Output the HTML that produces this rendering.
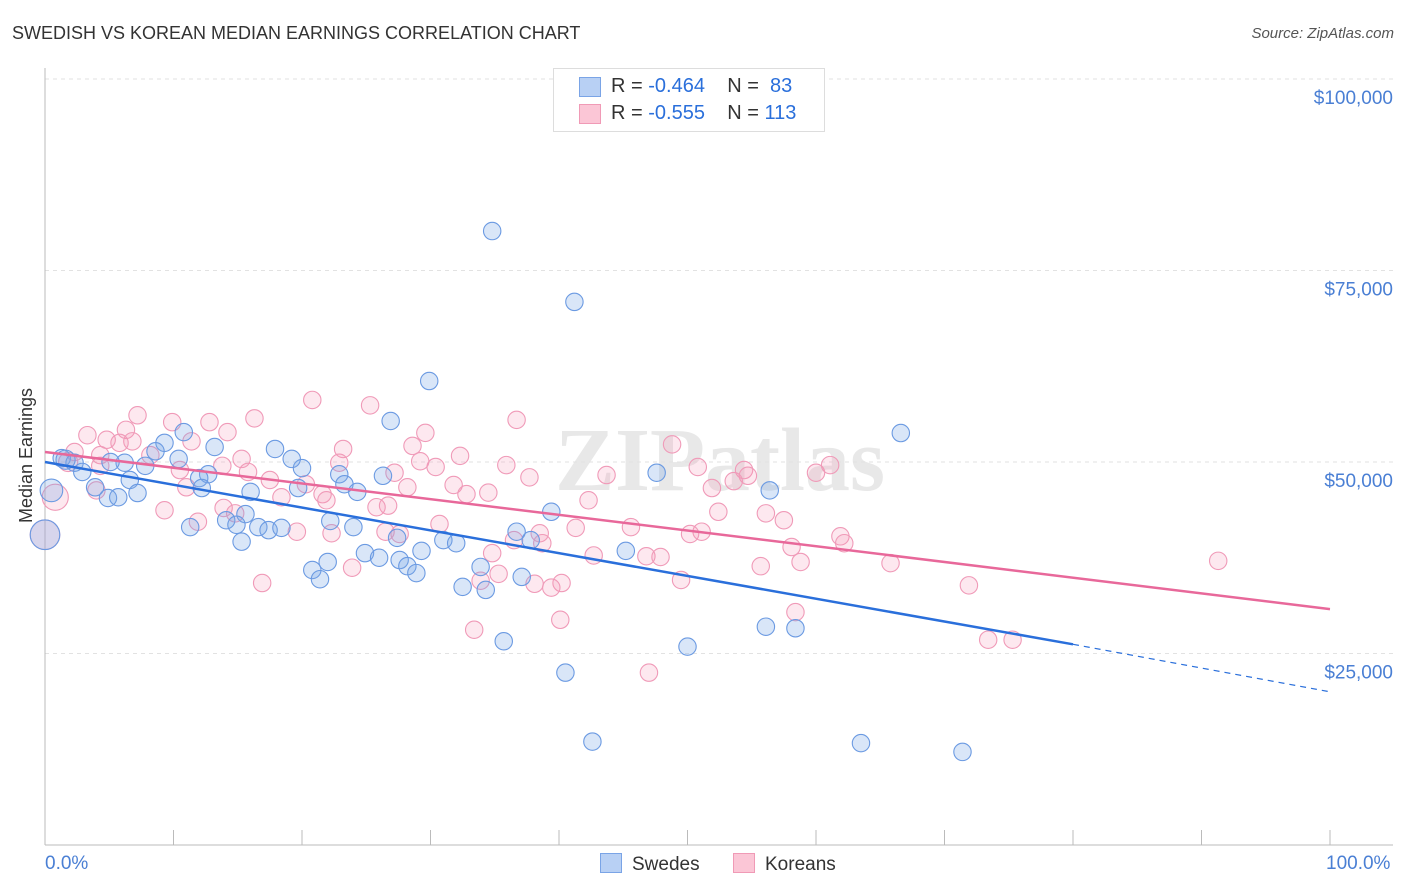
<!DOCTYPE html>
<html><head><meta charset="utf-8"><style>
body{margin:0;background:#fff;font-family:"Liberation Sans",sans-serif;}
#wrap{position:relative;width:1406px;height:892px;overflow:hidden;}
.t{position:absolute;white-space:nowrap;}
</style></head><body>
<div id="wrap">
<div class="t" style="left:12px;top:23px;font-size:18px;color:#333;">SWEDISH VS KOREAN MEDIAN EARNINGS CORRELATION CHART</div>
<div class="t" style="right:12px;top:25px;font-size:15px;color:#555;font-style:italic;">Source: ZipAtlas.com</div>
<svg id="svg" width="1406" height="892" style="position:absolute;left:0;top:0"></svg>
</div>
<script>
const yTicks=[25000,50000,75000,100000];
const yTickLabels=["$25,000","$50,000","$75,000","$100,000"];
const blueX=[34.8,41.2,29.9,26.9,66.6,17.9,10.8,9.3,8.6,10.4,6.2,7.8,5.1,1.3,2.3,2.9,13.2,20.0,19.2,22.9,26.3,12.7,12.0,6.6,3.9,12.2,16.0,19.7,23.3,24.3,7.2,4.9,5.7,39.4,47.6,56.4,14.1,15.6,14.9,16.6,17.4,18.4,11.3,15.3,22.2,24.0,31.0,32.0,27.4,29.3,24.9,26.0,27.6,28.2,28.9,22.0,20.8,21.4,33.9,37.1,32.5,34.3,36.7,37.8,45.2,35.7,40.5,50.0,56.1,58.4,42.6,63.5,71.4,0,0.5,1.6];
const blueY=[80150,70900,60570,55350,53780,51700,53900,52500,51400,50400,49900,49500,50000,50500,49900,48700,51960,49200,50400,48400,48200,48400,47900,47650,46700,46600,46100,46600,47100,46100,45950,45300,45400,43500,48600,46300,42400,43200,41800,41500,41100,41400,41500,39600,42300,41500,39800,39400,40100,38400,38100,37500,37200,36400,35500,36950,35900,34700,36300,35000,33700,33300,40900,39800,38400,26600,22500,25900,28500,28300,13500,13300,12150,40500,46300,50300];
const blueW=[1,1,1,1,1,1,1,1,1,1,1,1,1,1,1,1,1,1,1,1,1,1,1,1,1,1,1,1,1,1,1,1,1,1,1,1,1,1,1,1,1,1,1,1,1,1,1,1,1,1,1,1,1,1,1,1,1,1,1,1,1,1,1,1,1,1,1,1,1,1,1,1,1,1.7,1.3,1.1];
const pinkX=[20.8,25.3,36.7,7.2,16.3,12.8,9.9,6.3,3.3,14.2,29.6,4.8,6.8,5.8,11.4,23.2,28.6,32.3,48.8,2.3,4.3,8.2,15.3,22.9,29.2,30.4,35.9,50.8,54.4,61.1,60.0,54.7,53.6,43.7,37.7,13.8,15.8,10.5,4.3,11.0,17.5,20.3,27.2,28.2,31.8,34.5,32.8,51.9,18.4,21.6,21.9,26.7,25.8,14.8,9.3,11.9,30.7,42.3,57.5,56.1,52.4,45.6,51.1,50.2,61.9,62.2,58.1,41.3,38.5,36.5,38.7,26.5,27.6,19.6,22.3,34.8,42.7,46.8,47.9,55.7,58.8,65.8,91.3,23.9,35.3,33.9,38.1,40.2,39.4,49.5,71.9,16.9,40.1,33.4,58.4,47.0,73.4,75.3,0,0.8,1.8,4.0,13.9];
const pinkY=[58100,57400,55500,56100,55700,55200,55200,54200,53500,53900,53800,52900,52700,52500,52700,51700,52100,50800,52300,51300,50900,50900,50400,49900,50100,49350,49600,49350,48950,49600,48600,48200,47500,48300,48000,49500,48700,48950,49500,46700,47650,47100,48600,46700,47000,46000,45800,46600,45400,45800,45000,44300,44100,43300,43700,42200,41900,45000,42400,43300,43500,41500,40900,40600,40300,39400,38900,41400,40700,39800,39400,40900,40600,40900,40700,38100,37800,37700,37600,36400,36950,36800,37100,36200,35400,34500,34100,34200,33600,34600,33900,34200,29400,28100,30400,22500,26800,26800,40500,45400,50000,46300,44000];
const blueTrend=[50000,26200,20000]; // at 0%, 80%, 100%
const pinkTrend=[51300,30800];      // at 0%, 100%
const svg=document.getElementById('svg');
const NS='http://www.w3.org/2000/svg';
function X(p){return 45+p*12.85;}
function Y(v){return 462-(v-50000)*191.5/25000;}
function mk(tag,attrs,parent){const e=document.createElementNS(NS,tag);for(const k in attrs)e.setAttribute(k,attrs[k]);(parent||svg).appendChild(e);return e;}
// watermark
let wm=mk('text',{x:720,y:490,'text-anchor':'middle','font-size':90,'font-family':'Liberation Serif, serif',fill:'#e8e8e8','font-weight':'bold'});
wm.textContent='ZIPatlas';


// grid
yTicks.forEach((v,i)=>{
 let g=mk('line',{x1:45,x2:1393,y1:Y(v),y2:Y(v),stroke:'#e2e2e2','stroke-dasharray':'4,4'});
 
 
 let t=mk('text',{x:1393,y:Y(v)+25,'text-anchor':'end','font-size':19,fill:'#4a7fd4','font-family':'Liberation Sans, sans-serif'});
 t.textContent=yTickLabels[i];
 
 
});
// axes
let ax=mk('line',{x1:45,x2:45,y1:68,y2:845,stroke:'#bbb'});


let bx=mk('line',{x1:45,x2:1393,y1:845,y2:845,stroke:'#bbb'});


for(let i=0;i<=10;i++){let tk=mk('line',{x1:X(i*10),x2:X(i*10),y1:830,y2:845,stroke:'#bbb'});
 
 }
// points
function pts(xs,ys,ws,fill,stroke,name){xs.forEach((x,i)=>{
 let c=mk('circle',{cx:X(x),cy:Y(ys[i]),r:8.7*(ws?ws[i]:1),fill:fill,stroke:stroke,'stroke-width':1.1});
 
 });}
pts(pinkX,pinkY,pinkX.map((x,i)=>i>=pinkX.length-5?[1.7,1.5,1.1,1,1][i-(pinkX.length-5)]:1),'rgba(245,150,180,0.22)','#f09ab8','korean-point');
pts(blueX,blueY,blueW,'rgba(120,165,230,0.28)','#6b9ae2','swede-point');
// trends
let bl=mk('line',{x1:X(0),y1:Y(blueTrend[0]),x2:X(80),y2:Y(blueTrend[1]),stroke:'#2a6fdb','stroke-width':2.5});


let bd=mk('line',{x1:X(80),y1:Y(blueTrend[1]),x2:X(100),y2:Y(blueTrend[2]),stroke:'#2a6fdb','stroke-width':1.2,'stroke-dasharray':'6,5'});


let pl=mk('line',{x1:X(0),y1:Y(pinkTrend[0]),x2:X(100),y2:Y(pinkTrend[1]),stroke:'#e8689a','stroke-width':2.5});


</script>
<div class="t" style="left:-41px;top:445px;font-size:18px;color:#333;transform:rotate(-90deg);">Median Earnings</div>
<div class="t" style="left:45px;top:853px;font-size:19px;color:#4a7fd4;">0.0%</div>
<div class="t" style="left:1326px;top:853px;font-size:19px;color:#4a7fd4;">100.0%</div>
<div style="position:absolute;left:553px;top:68px;width:270px;height:62px;border:1px solid #ddd;background:#fff;font-size:20px;color:#333;">
 <div style="position:absolute;left:25px;top:8px;width:20px;height:18px;background:#b8d0f4;border:1px solid #7aa4e6"></div>
 <div class="t" style="left:57px;top:6px;">R = <span style="color:#2a6fdb">-0.464</span> &nbsp;&nbsp; N = &nbsp;<span style="color:#2a6fdb">83</span></div>
 <div style="position:absolute;left:25px;top:35px;width:20px;height:18px;background:#fbc6d6;border:1px solid #f09ab6"></div>
 <div class="t" style="left:57px;top:33px;">R = <span style="color:#2a6fdb">-0.555</span> &nbsp;&nbsp; N = <span style="color:#2a6fdb">113</span></div>
</div>
<div style="position:absolute;left:600px;top:853px;font-size:19px;color:#333;">
 <span style="display:inline-block;width:20px;height:18px;background:#b8d0f4;border:1px solid #7aa4e6;vertical-align:-3px;margin-right:10px"></span>Swedes</div>
<div style="position:absolute;left:733px;top:853px;font-size:19px;color:#333;">
 <span style="display:inline-block;width:20px;height:18px;background:#fbc6d6;border:1px solid #f09ab6;vertical-align:-3px;margin-right:10px"></span>Koreans</div>
</body></html>
